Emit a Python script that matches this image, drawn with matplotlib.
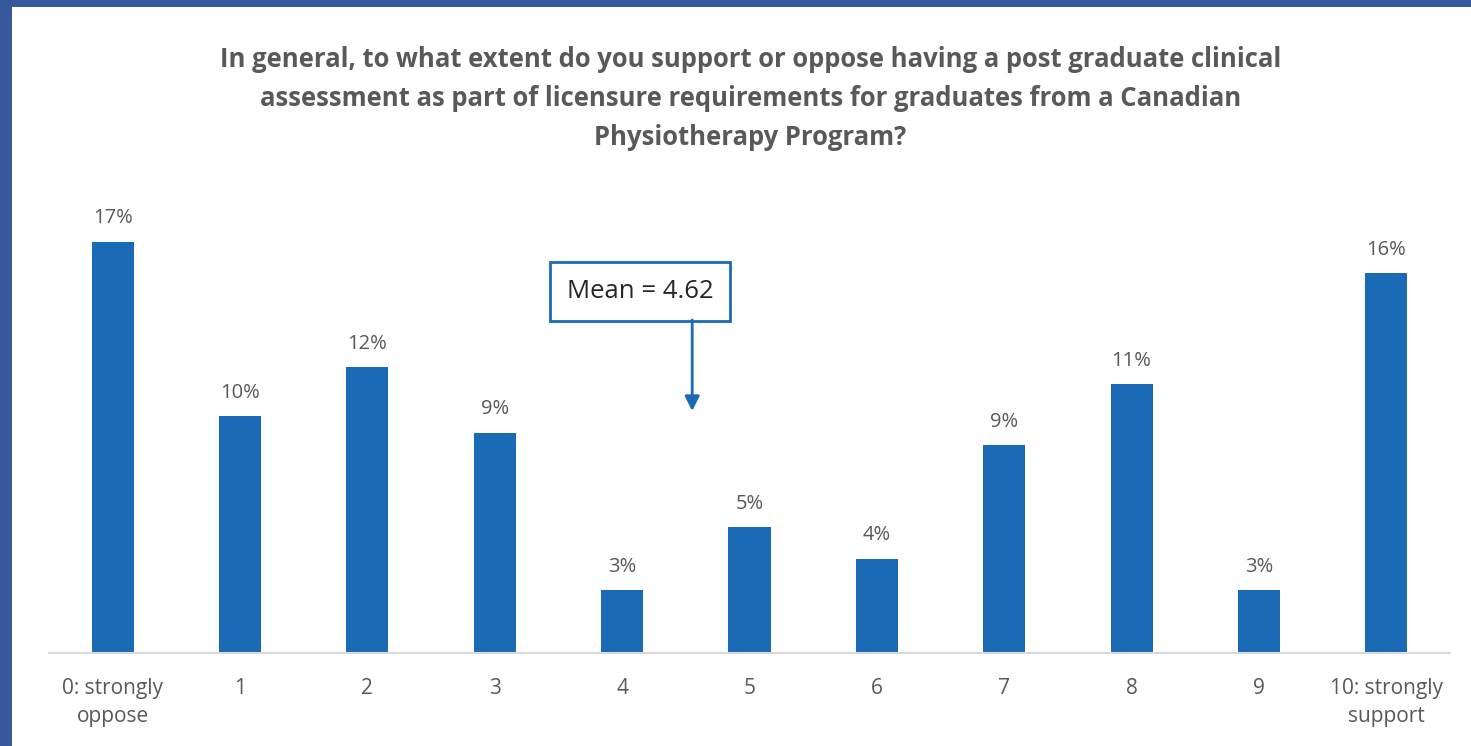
import matplotlib.pyplot as plt
from matplotlib.patches import Rectangle

plt.rcParams['font.family'] = ['Open Sans', 'DejaVu Sans']

categories = ["0: strongly\noppose", "1", "2", "3", "4", "5", "6", "7", "8", "9", "10: strongly\nsupport"]
values = [17.0, 9.8, 11.8, 9.1, 2.6, 5.2, 3.9, 8.6, 11.1, 2.6, 15.7]
mean_value = 4.62
title = ("In general, to what extent do you support or oppose having a post graduate clinical\n"
         "assessment as part of licensure requirements for graduates from a Canadian\n"
         "Physiotherapy Program?")

W, H = 1471, 746
fig = plt.figure(figsize=(W / 100, H / 100), dpi=100)
fig.patch.set_facecolor("#35599a")
# white slide panel
fig.patches.append(Rectangle((12 / W, 0), 1 - 12 / W, 1 - 7 / H, transform=fig.transFigure,
                             facecolor="white", edgecolor="none", zorder=-5))

ax = fig.add_axes([49 / W, 93 / H, 1401 / W, 484 / H])
ax.set_facecolor("none")

x = range(len(categories))
bars = ax.bar(x, values, width=0.33, color="#1b6ab5", zorder=2)
for xi, v in zip(x, values):
    ax.text(xi, v + 0.55, f"{v:.0f}%", ha="center", va="bottom", fontsize=14.5, color="#595959")

ax.set_xlim(-0.5, len(categories) - 0.5)
ax.set_ylim(0, 20)
ax.set_yticks([])
ax.set_xticks(list(x))
ax.set_xticklabels(categories, fontsize=15, color="#595959", linespacing=1.45)
ax.tick_params(axis="x", length=0, pad=18)
for s in ["top", "right", "left"]:
    ax.spines[s].set_visible(False)
ax.spines["bottom"].set_color("#d9d9d9")
ax.spines["bottom"].set_linewidth(1.5)

# mean callout
ax.text(4.14, 14.94, f"Mean = {mean_value}", ha="center", va="center", fontsize=18.5, color="#262626",
        bbox=dict(boxstyle="square,pad=0.65", facecolor="white", edgecolor="#1b6ab5", linewidth=2))
ax.annotate("", xy=(4.55, 10.0), xytext=(4.55, 13.76),
            arrowprops=dict(arrowstyle="-|>", color="#1b6ab5", lw=2, mutation_scale=22, shrinkA=0, shrinkB=0))

fig.text(0.51, 1 - 46 / H, title, ha="center", va="top", fontsize=18.45, fontweight="bold",
         color="#595959", linespacing=1.56)
fig.savefig("out.png", dpi=100, facecolor=fig.get_facecolor())
